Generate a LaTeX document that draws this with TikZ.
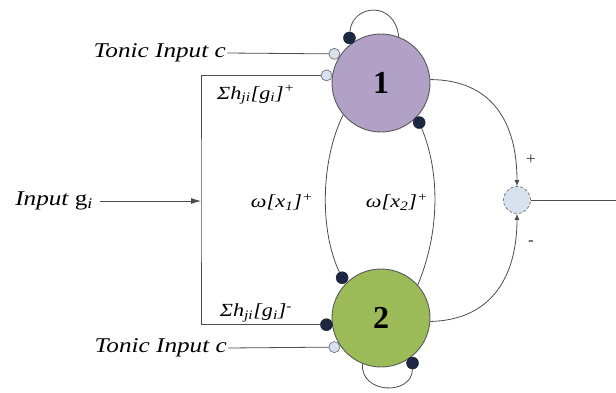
\documentclass[tikz,border=0pt]{standalone}
\usepackage{fontspec}
\setmainfont{Liberation Serif}
\newfontfamily\sfont[FakeStretch=1.2]{Liberation Serif}
\usetikzlibrary{arrows.meta}
\definecolor{navy}{HTML}{1C2742}
\definecolor{lightb}{HTML}{D6E2F0}
\definecolor{purp}{HTML}{B2A1C7}
\definecolor{grn}{HTML}{9BBB59}
\begin{document}
\begin{tikzpicture}[x=1pt,y=1pt,
 wire/.style={draw=black!70, line width=0.8pt},
 neuron/.style={circle, minimum size=98pt, inner sep=0pt, draw=black!65, line width=0.9pt},
 dark/.style={circle, minimum size=12pt, inner sep=0pt, fill=navy, draw=navy!70!black},
 light/.style={circle, minimum size=11pt, inner sep=0pt, fill=lightb, draw=black!55, line width=0.7pt},
 lbl/.style={font=\fontsize{21}{24}\sfont\itshape, text=black, inner sep=1pt},
 mlbl/.style={font=\fontsize{18.5}{22}\sfont\itshape, text=black, inner sep=0pt},
 num/.style={font=\fontsize{32}{36}\selectfont\bfseries, text=black},
 sgn/.style={font=\fontsize{17}{20}\selectfont, text=black!80, inner sep=0pt},
 arr/.style={-{Latex[length=6pt,width=5pt]}},
 bigarr/.style={-{Latex[length=10pt,width=6pt]}}
]
\useasboundingbox (0,0) rectangle (616,392);

% neurons
\node[neuron, fill=purp] (c1) at (381,309) {};
\node[num] at (c1) {1};
\node[neuron, fill=grn] (c2) at (381,74) {};
\node[num] at (c2) {2};

% sum junction
\node[circle, minimum size=27pt, inner sep=0pt, fill=lightb, draw=black!55, densely dashed, line width=0.7pt] (sum) at (517,192) {};
\coordinate (out) at (616,192);

% synapse dots
\node[dark]  (d1a) at ([shift={(125:55)}]c1.center) {};
\node[light] (l1)  at ([shift={(148:55)}]c1.center) {};
\node[light] (l2)  at ([shift={(172:55)}]c1.center) {};
\node[dark]  (d1b) at ([shift={(-46:55)}]c1.center) {};
\node[dark]  (d2a) at ([shift={(134:56)}]c2.center) {};
\node[dark]  (d2b) at ([shift={(187:55)}]c2.center) {};
\node[light] (l3)  at ([shift={(212:55)}]c2.center) {};
\node[dark]  (d2c) at ([shift={(-55:55)}]c2.center) {};

% labels
\node[lbl, anchor=east] (t1) at (227,339) {Tonic Input c};
\node[lbl, anchor=east] (t2) at (228,44) {Tonic Input c};
\node[lbl, anchor=east, inner sep=0pt] (inp) at (93,191) {Input {\upshape g}\textsubscript{i}};
\node[mlbl] (s1) at (256,297) {Σh\textsubscript{ji}[g\textsubscript{i}]\textsuperscript{+}};
\node[mlbl] (s2) at (256,79) {Σh\textsubscript{ji}[g\textsubscript{i}]\textsuperscript{-}};
\node[mlbl] (w1) at (282,190) {ω[x\textsubscript{1}]\textsuperscript{+}};
\node[mlbl] (w2) at (397,190) {ω[x\textsubscript{2}]\textsuperscript{+}};
\node[sgn] (plus) at (531,232) {+};
\node[sgn] (minus) at (531,149) {-};

% wiring
\coordinate (xv) at (201,191);
\draw[wire] (t1.east) -- (l1.west);
\draw[wire] (t2.east) -- (l3.west);
\draw[wire] (l2.west) -| (xv) |- (d2b.west);
\draw[wire, bigarr] ([xshift=7pt]inp.east) -- (xv);

% self loops
\draw[wire] (d1a) .. controls (352,388) and (395,392) .. (c1.69);
\draw[wire] (c2.248) .. controls (360,-2) and (412,-4) .. (d2c);

% mutual connections
\draw[wire] (c1.220) .. controls (320,230) and (320,160) .. (d2a);
\draw[wire] (c2.42) .. controls (440,160) and (440,220) .. (d1b);

% to sum
\draw[wire, arr] (c1.4) .. controls (492,312) and (517,270) .. (sum.north);
\draw[wire, arr] (c2.-4) .. controls (495,72) and (517,120) .. (sum.south);
\draw[wire] (sum.east) -- (out);
\end{tikzpicture}
\end{document}
